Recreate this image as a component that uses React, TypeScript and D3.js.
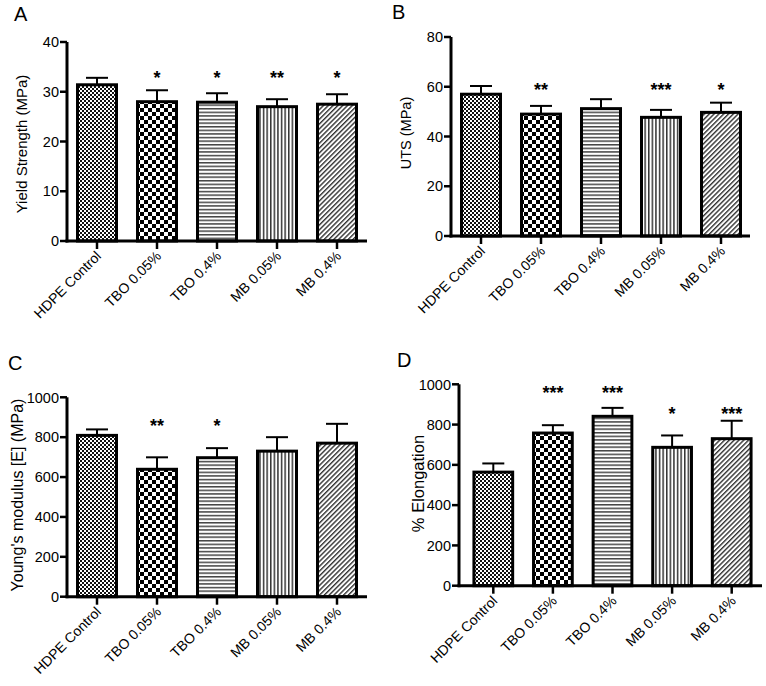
import React from "react";
import * as d3 from "d3";

const categories = ["HDPE Control", "TBO 0.05%", "TBO 0.4%", "MB 0.05%", "MB 0.4%"];

const yieldMean = [31.4, 28.0, 27.9, 27.0, 27.5];
const yieldSem = [1.4, 2.3, 1.8, 1.5, 2.0];
const yieldSig = ["", "*", "*", "**", "*"];
const yieldSigAt = [0, 33.4, 33.4, 33.4, 33.4];
const yieldTicks = [0, 10, 20, 30, 40];

const utsMean = [57.0, 49.0, 51.2, 47.7, 49.7];
const utsSem = [3.3, 3.3, 3.8, 3.0, 3.9];
const utsSig = ["", "**", "", "***", "*"];
const utsSigAt = [0, 60.3, 60.3, 60.3, 60.3];
const utsTicks = [0, 20, 40, 60, 80];

const modMean = [809, 639, 697, 730, 770];
const modSem = [30, 60, 48, 70, 97];
const modSig = ["", "**", "*", "", ""];
const modSigAt = [0, 872, 872, 872, 872];
const modTicks = [0, 200, 400, 600, 800, 1000];

const elongMean = [564, 758, 841, 687, 730];
const elongSem = [43, 39, 42, 59, 89];
const elongSig = ["", "***", "***", "*", "***"];
const elongSigAt = [0, 976, 976, 872, 872];
const elongTicks = [0, 200, 400, 600, 800, 1000];

const patternIds = ["pFineChecker", "pCoarseChecker", "pHoriz", "pVert", "pDiag"];

const FONT = "'Liberation Sans', Arial, Helvetica, sans-serif";

type PanelProps = {
  letter: string;
  letterX: number;
  letterY: number;
  yLabel: string;
  yLabelX: number;
  yLabelY: number;
  yLabelSize: number;
  axisX: number;
  axisEnd: number;
  bandStart: number;
  bandEnd: number;
  yBottom: number;
  yTop: number;
  ticks: number[];
  mean: number[];
  sem: number[];
  sig: string[];
  sigAt: number[];
};

function Panel(p: PanelProps) {
  const yMax = p.ticks[p.ticks.length - 1];
  const y = d3.scaleLinear().domain([0, yMax]).range([p.yBottom, p.yTop]);
  const x = d3
    .scaleBand<string>()
    .domain(categories)
    .range([p.bandStart, p.bandEnd])
    .paddingInner(0.35)
    .paddingOuter(0.175);
  const bw = x.bandwidth();
  return (
    <g fontFamily={FONT}>
      <text x={p.letterX} y={p.letterY} fontSize={20} fill="#000">
        {p.letter}
      </text>
      <text
        transform={`translate(${p.yLabelX},${p.yLabelY}) rotate(-90)`}
        textAnchor="middle"
        fontSize={p.yLabelSize}
        fill="#000"
      >
        {p.yLabel}
      </text>
      {categories.map((c, i) => {
        const x0 = x(c) as number;
        const cx = x0 + bw / 2;
        const top = y(p.mean[i]);
        const errTop = y(p.mean[i] + p.sem[i]);
        return (
          <g key={c}>
            <line x1={cx} x2={cx} y1={top} y2={errTop} stroke="#000" strokeWidth={2} />
            <line x1={cx - 11} x2={cx + 11} y1={errTop} y2={errTop} stroke="#000" strokeWidth={2} />
            <rect
              x={x0}
              y={top}
              width={bw}
              height={p.yBottom - top}
              fill={`url(#${patternIds[i]})`}
              stroke="#000"
              strokeWidth={3}
            />
            {p.sig[i] ? (
              <text
                x={cx}
                y={y(p.sigAt[i])}
                dy={9.5}
                textAnchor="middle"
                fontSize={18}
                fontWeight="bold"
                fill="#000"
              >
                {p.sig[i]}
              </text>
            ) : null}
            <line x1={cx} x2={cx} y1={p.yBottom} y2={p.yBottom + 8} stroke="#000" strokeWidth={2.5} />
            <text
              transform={`translate(${cx + 5},${p.yBottom + 16}) rotate(-45)`}
              textAnchor="end"
              fontSize={14}
              fill="#000"
            >
              {c}
            </text>
          </g>
        );
      })}
      {/* y axis */}
      <line x1={p.axisX} x2={p.axisX} y1={p.yBottom + 1.5} y2={y(yMax)} stroke="#000" strokeWidth={3} />
      {p.ticks.map((t) => (
        <g key={t}>
          <line x1={p.axisX - 7} x2={p.axisX} y1={y(t)} y2={y(t)} stroke="#000" strokeWidth={2.5} />
          <text x={p.axisX - 8} y={y(t)} dy="0.36em" textAnchor="end" fontSize={14.5} fill="#000">
            {t}
          </text>
        </g>
      ))}
      {/* x axis */}
      <line x1={p.axisX - 1.5} x2={p.axisEnd} y1={p.yBottom} y2={p.yBottom} stroke="#000" strokeWidth={3} />
    </g>
  );
}

export default function App() {
  return (
    <svg
      width={766}
      height={686}
      viewBox="0 0 766 686"
      style={{ position: "absolute", left: 0, top: 0, background: "#fff" }}
    >
      <defs>
        <pattern id="pFineChecker" patternUnits="userSpaceOnUse" width={4} height={4}>
          <rect width={4} height={4} fill="#fff" />
          <rect x={0} y={0} width={2} height={2} fill="#111" />
          <rect x={2} y={2} width={2} height={2} fill="#111" />
        </pattern>
        <pattern id="pCoarseChecker" patternUnits="userSpaceOnUse" width={8} height={8}>
          <rect width={8} height={8} fill="#fff" />
          <rect x={0} y={0} width={4} height={4} fill="#000" />
          <rect x={4} y={4} width={4} height={4} fill="#000" />
        </pattern>
        <pattern id="pHoriz" patternUnits="userSpaceOnUse" width={4} height={3.6}>
          <rect width={4} height={3.6} fill="#fff" />
          <rect x={0} y={0} width={4} height={1.5} fill="#444" />
        </pattern>
        <pattern id="pVert" patternUnits="userSpaceOnUse" width={3.6} height={4}>
          <rect width={3.6} height={4} fill="#fff" />
          <rect x={0} y={0} width={1.5} height={4} fill="#333" />
        </pattern>
        <pattern
          id="pDiag"
          patternUnits="userSpaceOnUse"
          width={3.4}
          height={3.4}
          patternTransform="rotate(45)"
        >
          <rect width={3.4} height={3.4} fill="#fff" />
          <rect x={0} y={0} width={1.4} height={3.4} fill="#333" />
        </pattern>
      </defs>
      <rect width={766} height={686} fill="#fff" />
      <Panel
        letter="A"
        letterX={14}
        letterY={21}
        yLabel="Yield Strength (MPa)"
        yLabelX={27}
        yLabelY={144}
        yLabelSize={15}
        axisX={67}
        axisEnd={367}
        bandStart={67}
        bandEnd={367}
        yBottom={241}
        yTop={42}
        ticks={yieldTicks}
        mean={yieldMean}
        sem={yieldSem}
        sig={yieldSig}
        sigAt={yieldSigAt}
      />
      <Panel
        letter="B"
        letterX={392}
        letterY={19}
        yLabel="UTS (MPa)"
        yLabelX={411}
        yLabelY={133}
        yLabelSize={14.5}
        axisX={451}
        axisEnd={750}
        bandStart={451}
        bandEnd={751}
        yBottom={236}
        yTop={37}
        ticks={utsTicks}
        mean={utsMean}
        sem={utsSem}
        sig={utsSig}
        sigAt={utsSigAt}
      />
      <Panel
        letter="C"
        letterX={8}
        letterY={370}
        yLabel="Young's modulus [E] (MPa)"
        yLabelX={23}
        yLabelY={495}
        yLabelSize={16}
        axisX={67}
        axisEnd={367}
        bandStart={67}
        bandEnd={367}
        yBottom={596.7}
        yTop={397.3}
        ticks={modTicks}
        mean={modMean}
        sem={modSem}
        sig={modSig}
        sigAt={modSigAt}
      />
      <Panel
        letter="D"
        letterX={397}
        letterY={367}
        yLabel="% Elongation"
        yLabelX={424}
        yLabelY={483.5}
        yLabelSize={16.5}
        axisX={459}
        axisEnd={762}
        bandStart={463.5}
        bandEnd={761.5}
        yBottom={585.7}
        yTop={384.3}
        ticks={elongTicks}
        mean={elongMean}
        sem={elongSem}
        sig={elongSig}
        sigAt={elongSigAt}
      />
    </svg>
  );
}
